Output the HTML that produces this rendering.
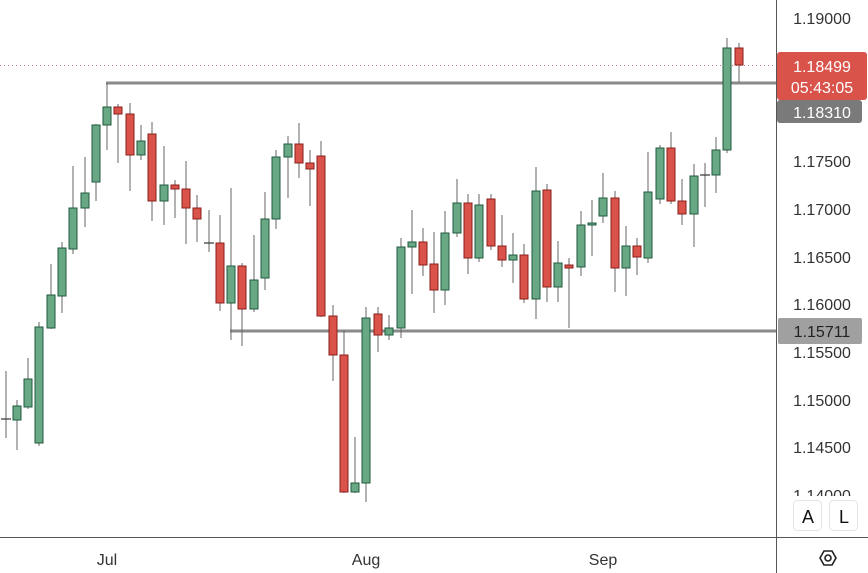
<!DOCTYPE html>
<html><head><meta charset="utf-8"><style>
html,body{margin:0;padding:0;background:#fff;width:868px;height:573px;overflow:hidden;font-family:"Liberation Sans",sans-serif}
</style></head><body>
<svg id="s" width="868" height="573" xmlns="http://www.w3.org/2000/svg" style="position:absolute;left:0;top:0">
<rect width="868" height="573" fill="#fff"/>
<line x1="0" y1="65.5" x2="776" y2="65.5" stroke="#c77" stroke-width="1" stroke-dasharray="1,3"/>
<line x1="106" y1="83" x2="776" y2="83" stroke="#8a8a8a" stroke-width="3"/>
<line x1="230" y1="331" x2="776" y2="331" stroke="#8a8a8a" stroke-width="3"/>
<g id="c"></g>
<line x1="776.5" y1="0" x2="776.5" y2="573" stroke="#555" stroke-width="1"/>
<line x1="0" y1="537.5" x2="868" y2="537.5" stroke="#555" stroke-width="1"/>
<g font-size="16" fill="#333" text-anchor="middle">
<text x="822" y="24">1.19000</text>
<text x="822" y="167">1.17500</text>
<text x="822" y="215">1.17000</text>
<text x="822" y="263">1.16500</text>
<text x="822" y="310">1.16000</text>
<text x="822" y="358">1.15500</text>
<text x="822" y="406">1.15000</text>
<text x="822" y="453">1.14500</text>
<text x="822" y="501">1.14000</text>
<text x="107" y="565">Jul</text>
<text x="366" y="565">Aug</text>
<text x="603" y="565">Sep</text>
</g>
<rect x="777" y="52" width="90" height="48" rx="3" fill="#d9534a"/>
<text x="822" y="72" font-size="16" fill="#fff" text-anchor="middle">1.18499</text>
<text x="822" y="93" font-size="16" fill="#fff" text-anchor="middle">05:43:05</text>
<rect x="777" y="100" width="85" height="23" rx="3" fill="#7a7a7a"/>
<text x="822" y="118" font-size="16" fill="#fff" text-anchor="middle">1.18310</text>
<rect x="778" y="318" width="84" height="26" rx="2" fill="#a0a0a0"/>
<text x="822" y="337" font-size="16" fill="#222" text-anchor="middle">1.15711</text>
<rect x="784" y="496" width="84" height="41" fill="#fff"/>
<rect x="793.5" y="500.5" width="28" height="30" rx="4" fill="#fff" stroke="#e4e4e4"/>
<rect x="829.5" y="500.5" width="28" height="30" rx="4" fill="#fff" stroke="#e4e4e4"/>
<text x="808" y="523" font-size="18" fill="#111" text-anchor="middle">A</text>
<text x="844" y="523" font-size="18" fill="#111" text-anchor="middle">L</text>
<polygon points="820,558 824,551 832,551 836,558 832,565 824,565" fill="none" stroke="#222" stroke-width="1.6"/>
<circle cx="828" cy="558" r="3" fill="none" stroke="#222" stroke-width="1.6"/>
</svg>
<script>
var d=[[6,371,438,419,420,'d'],[17,400,450,406,420,'g'],[28,358,409,379,407,'g'],[39,322,446,327,443,'g'],[51,264,329,295,328,'g'],[62,242,313,248,296,'g'],[73,166,254,208,249,'g'],[85,157,227,193,208,'g'],[96,124,201,125,182,'g'],[107,83,150,107,125,'g'],[118,104,163,107,114,'r'],[130,103,191,114,155,'r'],[141,125,160,141,155,'g'],[152,122,221,134,201,'r'],[164,146,225,185,201,'g'],[175,180,218,185,189,'r'],[186,161,244,189,208,'r'],[197,195,242,208,219,'r'],[209,210,252,243,244,'d'],[220,215,311,243,303,'r'],[231,188,340,266,303,'g'],[242,263,346,266,309,'r'],[254,235,312,280,309,'g'],[265,192,290,219,278,'g'],[276,150,229,157,219,'g'],[288,136,198,144,157,'g'],[299,123,178,144,163,'r'],[310,150,206,163,169,'r'],[321,141,317,156,316,'r'],[333,305,381,316,355,'r'],[344,330,493,355,492,'r'],[355,437,493,483,492,'g'],[366,307,502,318,483,'g'],[378,307,352,314,335,'r'],[389,315,340,328,335,'g'],[401,238,338,247,328,'g'],[412,210,294,242,247,'g'],[423,228,276,242,265,'r'],[434,232,313,264,290,'r'],[445,211,305,233,290,'g'],[457,179,237,203,233,'g'],[468,194,274,203,258,'r'],[479,194,262,205,258,'g'],[491,194,250,199,246,'r'],[502,215,267,246,260,'r'],[513,233,283,255,260,'g'],[524,244,303,255,299,'r'],[536,167,319,191,299,'g'],[547,184,302,190,287,'r'],[558,241,302,263,287,'g'],[569,258,328,265,268,'r'],[581,211,276,225,267,'g'],[592,200,256,223,225,'g'],[603,173,223,198,216,'g'],[615,191,292,198,268,'r'],[626,226,296,246,268,'g'],[637,238,275,246,257,'r'],[648,152,263,192,258,'g'],[660,145,204,148,199,'g'],[671,132,204,148,201,'r'],[682,179,225,201,214,'r'],[694,164,247,176,214,'g'],[705,163,207,175,176,'d'],[716,137,193,150,175,'g'],[727,38,153,48,150,'g'],[739,43,82,48,65,'r']];
var h='';d.forEach(function(c){var x=c[0],col=c[5];
h+='<line x1="'+x+'" y1="'+c[1]+'" x2="'+x+'" y2="'+c[2]+'" stroke="#666" stroke-width="1"/>';
if(col=='d'){h+='<line x1="'+(x-5)+'" y1="'+c[3]+'" x2="'+(x+5)+'" y2="'+c[3]+'" stroke="#333" stroke-width="1.2"/>';}
else{var f=col=='g'?'#68a884':'#d9534a',s=col=='g'?'#1f5a3e':'#8a1e1a';
h+='<rect x="'+(x-4)+'" y="'+c[3]+'" width="8" height="'+Math.max(1,c[4]-c[3])+'" fill="'+f+'" stroke="'+s+'" stroke-width="1"/>';}});
document.getElementById('c').innerHTML=h;
</script>
</body></html>
